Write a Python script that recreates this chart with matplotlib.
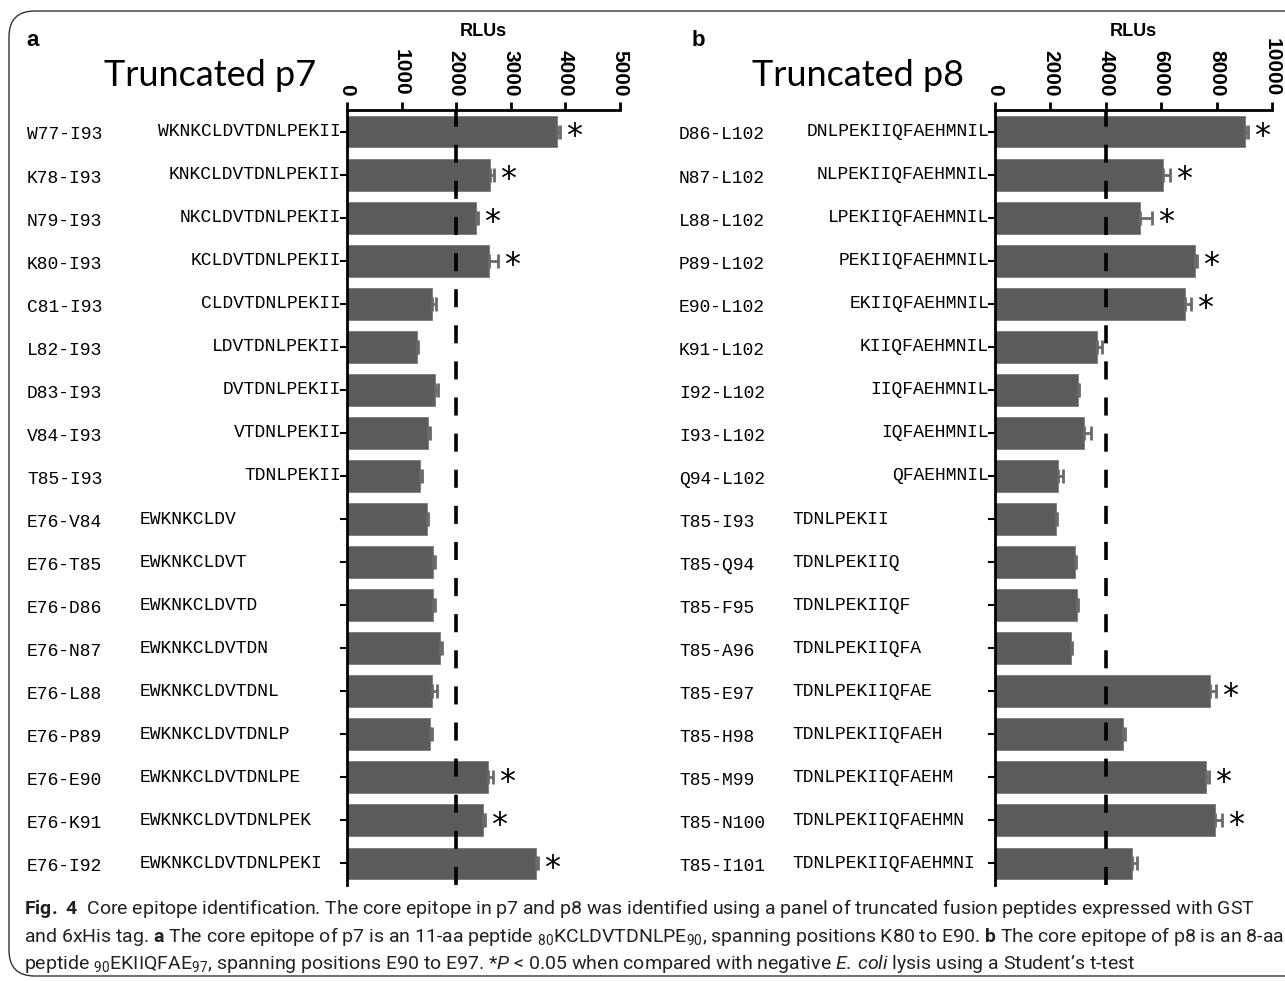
import matplotlib
matplotlib.use('Agg')
import matplotlib.pyplot as plt
from matplotlib.patches import FancyBboxPatch
from matplotlib.transforms import blended_transform_factory

# panel a: truncated p7
names_a = ['W77-I93', 'K78-I93', 'N79-I93', 'K80-I93', 'C81-I93', 'L82-I93',
           'D83-I93', 'V84-I93', 'T85-I93', 'E76-V84', 'E76-T85', 'E76-D86',
           'E76-N87', 'E76-L88', 'E76-P89', 'E76-E90', 'E76-K91', 'E76-I92']
seqs_a = ['WKNKCLDVTDNLPEKII', 'KNKCLDVTDNLPEKII', 'NKCLDVTDNLPEKII',
          'KCLDVTDNLPEKII', 'CLDVTDNLPEKII', 'LDVTDNLPEKII', 'DVTDNLPEKII',
          'VTDNLPEKII', 'TDNLPEKII', 'EWKNKCLDV', 'EWKNKCLDVT', 'EWKNKCLDVTD',
          'EWKNKCLDVTDN', 'EWKNKCLDVTDNL', 'EWKNKCLDVTDNLP', 'EWKNKCLDVTDNLPE',
          'EWKNKCLDVTDNLPEK', 'EWKNKCLDVTDNLPEKI']
rlu_a = [3840, 2610, 2360, 2600, 1560, 1280, 1610, 1480, 1340,
         1460, 1570, 1570, 1700, 1560, 1520, 2580, 2490, 3470]
err_a = [60, 90, 40, 160, 70, 20, 50, 40, 30,
         30, 50, 50, 40, 90, 40, 90, 30, 30]
sig_a = [1, 1, 1, 1, 0, 0, 0, 0, 0, 0, 0, 0, 0, 0, 0, 1, 1, 1]

# panel b: truncated p8
names_b = ['D86-L102', 'N87-L102', 'L88-L102', 'P89-L102', 'E90-L102',
           'K91-L102', 'I92-L102', 'I93-L102', 'Q94-L102', 'T85-I93',
           'T85-Q94', 'T85-F95', 'T85-A96', 'T85-E97', 'T85-H98', 'T85-M99',
           'T85-N100', 'T85-I101']
seqs_b = ['DNLPEKIIQFAEHMNIL', 'NLPEKIIQFAEHMNIL', 'LPEKIIQFAEHMNIL',
          'PEKIIQFAEHMNIL', 'EKIIQFAEHMNIL', 'KIIQFAEHMNIL', 'IIQFAEHMNIL',
          'IQFAEHMNIL', 'QFAEHMNIL', 'TDNLPEKII', 'TDNLPEKIIQ', 'TDNLPEKIIQF',
          'TDNLPEKIIQFA', 'TDNLPEKIIQFAE', 'TDNLPEKIIQFAEH', 'TDNLPEKIIQFAEHM',
          'TDNLPEKIIQFAEHMN', 'TDNLPEKIIQFAEHMNI']
rlu_b = [9020, 6070, 5230, 7220, 6860, 3680, 3000, 3210, 2270,
         2200, 2890, 2960, 2740, 7760, 4620, 7620, 7940, 4950]
err_b = [120, 250, 420, 60, 230, 170, 40, 260, 200,
         40, 40, 40, 30, 230, 80, 100, 250, 160]
sig_b = [1, 1, 1, 1, 1, 0, 0, 0, 0, 0, 0, 0, 0, 1, 0, 1, 1, 0]

W, H = 1285, 981
plt.rcParams['mathtext.fontset'] = 'custom'
plt.rcParams['mathtext.rm'] = 'Roboto'
plt.rcParams['mathtext.it'] = 'Roboto:italic'
plt.rcParams['mathtext.bf'] = 'Roboto:bold'

fig = plt.figure(figsize=(W / 100, H / 100), dpi=100)

frame = FancyBboxPatch((9 / W, 5 / H), 1.5, (H - 16) / H,
                       boxstyle='round,pad=0,rounding_size=0.02',
                       transform=fig.transFigure, fill=False,
                       edgecolor='#333333', linewidth=1.0, mutation_aspect=W / H)
fig.patches.append(frame)

# fixed-pitch face, the original labels are half-width (10.7 px per char)
mono = 'Liberation Mono'


def panel(x0, x1, names, seqs, rlu, err, sig, xmax, step, cutoff,
          letter, title, name_x, seq_x, n_right):
    ax = fig.add_axes([x0 / W, 1 - 885 / H, (x1 - x0) / W, (885 - 110) / H])
    pos = list(range(len(names)))
    ax.barh(pos, rlu, height=0.74, color='#5b5b5b', edgecolor='#7a7a7a',
            linewidth=0.6, zorder=2)
    ax.errorbar(rlu, pos, xerr=[[0] * len(err), err], fmt='none',
                ecolor='#6a6a6a', elinewidth=2, capsize=5, capthick=2, zorder=3)
    ax.axvline(cutoff, color='black', lw=2.6, dashes=(5, 5), zorder=4)
    ax.set_xlim(0, xmax)
    ax.set_ylim(len(names) - 0.5, -0.5)
    ax.xaxis.tick_top()
    ax.set_xticks(range(0, xmax + 1, step))
    ax.set_xticklabels([str(v) for v in range(0, xmax + 1, step)],
                       rotation=270, fontsize=15, fontweight='bold',
                       family='Liberation Sans')
    ax.tick_params(axis='x', direction='out', length=6, width=2, pad=4)
    ax.set_yticks(pos)
    ax.set_yticklabels([''] * len(pos))
    ax.tick_params(axis='y', direction='out', length=5, width=1.5)
    for s in ['right', 'bottom']:
        ax.spines[s].set_visible(False)
    for s in ['top', 'left']:
        ax.spines[s].set_linewidth(2)

    tr = blended_transform_factory(fig.transFigure, ax.transData)
    for i, (n, q) in enumerate(zip(names, seqs)):
        ax.text(name_x / W, i + 0.08, n, transform=tr, fontsize=13,
                family=mono, va='center', ha='left')
        if i < n_right:
            ax.text((x0 - 6) / W, i, q, transform=tr, fontsize=13,
                    family=mono, va='center', ha='right')
        else:
            ax.text(seq_x / W, i, q, transform=tr, fontsize=13,
                    family=mono, va='center', ha='left')
        if sig[i]:
            ax.text(rlu[i] + err[i] + xmax * 0.022, i + 0.12, '*',
                    fontsize=23, va='center', ha='left', family='DejaVu Sans')

    fig.text(letter[1] / W, 1 - 40 / H, letter[0], fontsize=16,
             fontweight='bold', family='Liberation Sans', va='center')
    fig.text((x0 + x1) / 2 / W, 1 - 32 / H, 'RLUs', fontsize=13,
             fontweight='bold', family='Liberation Sans', va='center',
             ha='center')
    fig.text(title[1] / W, 1 - 76 / H, title[0], fontsize=26, family='Lato',
             va='center', ha='center')
    return ax


panel(347, 620, names_a, seqs_a, rlu_a, err_a, sig_a, 5000, 1000, 2000,
      ('a', 26), ('Truncated p7', 210), 27, 140, 9)
panel(995, 1272, names_b, seqs_b, rlu_b, err_b, sig_b, 10000, 2000, 4000,
      ('b', 692), ('Truncated p8', 858), 679, 792, 9)

cap = [r'$\mathbf{Fig.\ 4}$  Core epitope identification. The core epitope in p7 and p8 '
       r'was identified using a panel of truncated fusion peptides expressed with GST',
       r'and 6xHis tag. $\mathbf{a}$ The core epitope of p7 is an 11-aa peptide '
       r'$_{80}$KCLDVTDNLPE$_{90}$, spanning positions K80 to E90. $\mathbf{b}$ '
       r'The core epitope of p8 is an 8-aa',
       r'peptide $_{90}$EKIIQFAE$_{97}$, spanning positions E90 to E97. *$\mathit{P}$ < 0.05 '
       r'when compared with negative $\mathit{E.\,coli}$ lysis using a Student’s t-test']
for k, line in enumerate(cap):
    fig.text(24 / W, 1 - (908 + 28 * k) / H, line, fontsize=14,
             family='Roboto', va='center', ha='left', color='#222222')

fig.savefig('out.png', dpi=100)
